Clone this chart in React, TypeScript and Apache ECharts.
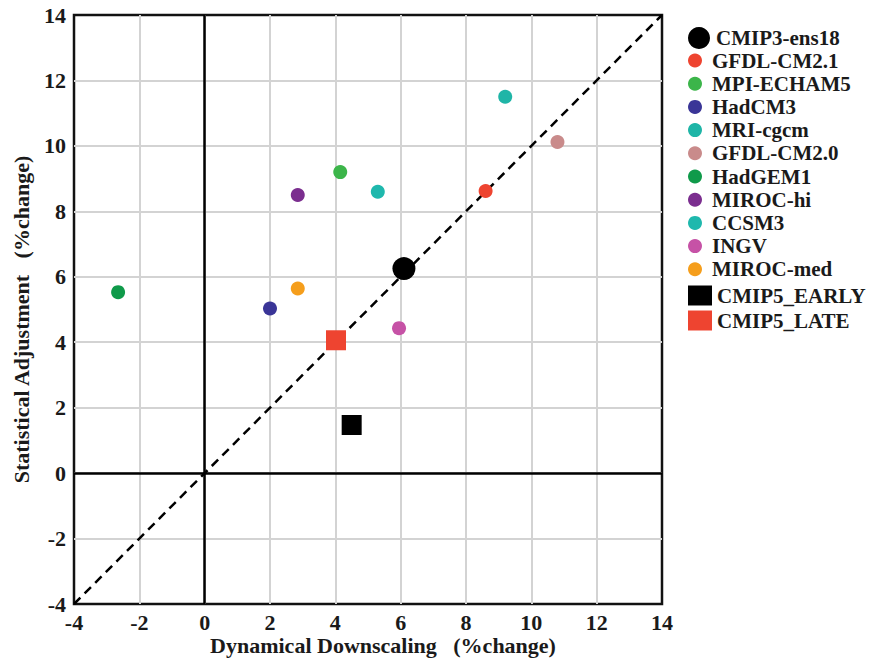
import React, { useEffect, useRef } from "react";
import * as echarts from "echarts";

const modelNames = [
  "CMIP3-ens18",
  "GFDL-CM2.1",
  "MPI-ECHAM5",
  "HadCM3",
  "MRI-cgcm",
  "GFDL-CM2.0",
  "HadGEM1",
  "MIROC-hi",
  "CCSM3",
  "INGV",
  "MIROC-med",
  "CMIP5_EARLY",
  "CMIP5_LATE",
];
const dynamicalDownscaling = [6.1, 8.6, 4.15, 2.0, 9.2, 10.8, -2.65, 2.85, 5.3, 5.95, 2.85, 4.5, 4.02];
const statisticalAdjustment = [6.25, 8.62, 9.2, 5.03, 11.5, 10.12, 5.53, 8.5, 8.6, 4.43, 5.64, 1.47, 4.06];
const modelColors = [
  "#000000",
  "#ee4430",
  "#3cb54a",
  "#3a3597",
  "#1fb5a7",
  "#c98b8b",
  "#0f9a4a",
  "#7b2e8f",
  "#1fb8ad",
  "#c652a6",
  "#f59e1c",
  "#000000",
  "#ee4430",
];
const markerKinds = ["big", "small", "small", "small", "small", "small", "small", "small", "small", "small", "small", "square", "square"];
const axisTicks = [-4, -2, 0, 2, 4, 6, 8, 10, 12, 14];
const oneToOne = [
  [-4, -4],
  [14, 14],
];

const FONT = "'Liberation Serif', 'Times New Roman', serif";
const TEXT_COLOR = "#1a1a1a";

export default function App() {
  const ref = useRef<HTMLDivElement>(null);

  useEffect(() => {
    if (!ref.current) return;
    const chart = echarts.init(ref.current, undefined, { renderer: "svg" });

    const scatterSeries = modelNames.map((name, i) => {
      const kind = markerKinds[i];
      return {
        name,
        type: "scatter",
        symbol: kind === "square" ? "rect" : "circle",
        symbolSize: kind === "big" ? 23 : kind === "square" ? 20 : 14,
        itemStyle: { color: modelColors[i], opacity: 1 },
        data: [[dynamicalDownscaling[i], statisticalAdjustment[i]]],
        z: kind === "small" ? 4 : 3,
      };
    });

    const legendText = {
      fontFamily: FONT,
      fontWeight: "bold",
      fontSize: 21,
      color: TEXT_COLOR,
    };

    const axisCommon = {
      type: "value",
      min: axisTicks[0],
      max: axisTicks[axisTicks.length - 1],
      interval: 2,
      axisLine: { show: false },
      axisTick: { show: false },
      splitLine: {
        show: true,
        showMinLine: false,
        showMaxLine: false,
        lineStyle: { color: "#d3d3d3", width: 2 },
      },
      nameLocation: "middle",
      nameMoveOverlap: false,
      axisLabel: {
        fontFamily: FONT,
        fontWeight: "bold",
        fontSize: 22,
        color: TEXT_COLOR,
      },
    };

    const nameStyle = {
      fontFamily: FONT,
      fontWeight: "bold",
      fontSize: 22,
      color: TEXT_COLOR,
    };

    chart.setOption({
      animation: false,
      backgroundColor: "#ffffff",
      grid: {
        left: 74,
        top: 15,
        right: 208,
        bottom: 57,
        outerBoundsMode: "none",
        containLabel: false,
        show: true,
        borderColor: "#111111",
        borderWidth: 2.5,
        backgroundColor: "transparent",
      },
      xAxis: {
        ...axisCommon,
        name: "Dynamical Downscaling   (%change)",
        nameGap: 30,
        nameTextStyle: { ...nameStyle, padding: [0, 0, 0, 30] },
        axisLabel: { ...axisCommon.axisLabel, margin: 7 },
      },
      yAxis: {
        ...axisCommon,
        name: "Statistical Adjustment   (%change)",
        nameGap: 42,
        nameTextStyle: { ...nameStyle, padding: [0, 20, 0, 0] },
        axisLabel: { ...axisCommon.axisLabel, margin: 8 },
      },
      legend: [
        {
          data: [modelNames[0]],
          orient: "vertical",
          left: 688,
          top: 27,
          padding: 0,
          icon: "circle",
          itemWidth: 24,
          itemHeight: 22,
          itemGap: 3,
          selectedMode: false,
          textStyle: legendText,
        },
        {
          data: modelNames.slice(1, 11),
          orient: "vertical",
          left: 688,
          top: 50,
          padding: 0,
          icon: "circle",
          itemWidth: 24,
          itemHeight: 14,
          itemGap: 2.2,
          selectedMode: false,
          textStyle: legendText,
        },
        {
          data: modelNames.slice(11),
          orient: "vertical",
          left: 688,
          top: 285,
          padding: 0,
          icon: "rect",
          itemWidth: 24,
          itemHeight: 20,
          itemGap: 4,
          selectedMode: false,
          textStyle: legendText,
        },
      ],
      series: [
        {
          name: "one-to-one",
          type: "line",
          data: oneToOne,
          symbol: "none",
          silent: true,
          z: 2,
          lineStyle: { color: "#000000", width: 2.5, type: [9, 6] },
          markLine: {
            silent: true,
            symbol: "none",
            label: { show: false },
            lineStyle: { color: "#000000", width: 2.5, type: "solid" },
            data: [{ xAxis: 0 }, { yAxis: 0 }],
          },
        },
        ...scatterSeries,
      ],
    });

    return () => chart.dispose();
  }, []);

  return (
    <div
      ref={ref}
      style={{ position: "fixed", left: 0, top: 0, width: 870, height: 661 }}
    />
  );
}
